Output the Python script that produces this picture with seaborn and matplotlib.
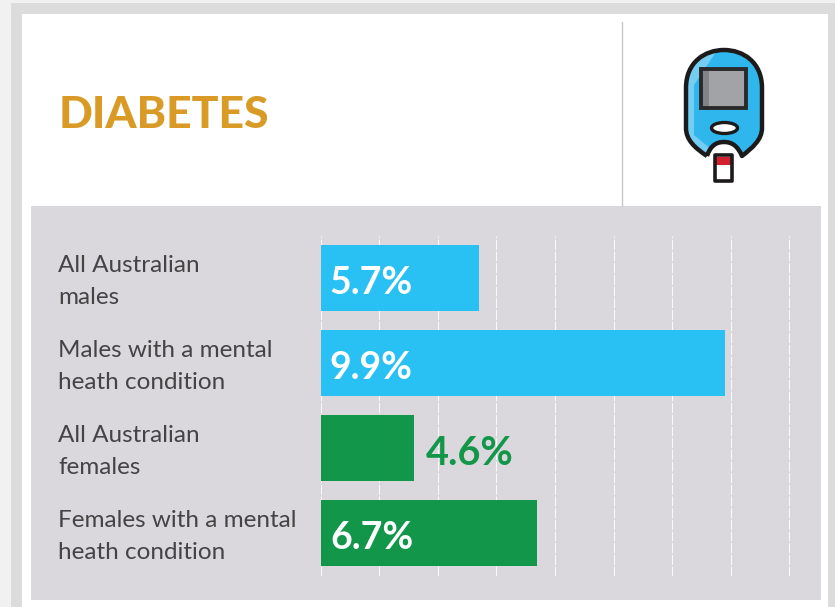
import matplotlib
matplotlib.use("Agg")
import matplotlib.pyplot as plt
from matplotlib.patches import Rectangle, Ellipse, PathPatch
from matplotlib.path import Path
from matplotlib.transforms import ScaledTranslation
import pandas as pd
import seaborn as sns

labels = ["All Australian\nmales", "Males with a mental\nheath condition",
          "All Australian\nfemales", "Females with a mental\nheath condition"]
values = [5.7, 9.9, 4.6, 6.7]
value_text = ["5.7%", "9.9%", "4.6%", "6.7%"]
bar_colors = ["#29c0f3", "#29c0f3", "#12964a", "#12964a"]
text_colors = ["white", "white", "#12964a", "white"]
grid_ticks = [3, 4, 5, 6, 7, 8, 9, 10, 11]

W, H = 835, 607
PANEL = "#dad8dc"
INK = "#1c1a1b"

sns.set_theme(style="white")
plt.rcParams["font.family"] = ["Lato", "DejaVu Sans"]

fig = plt.figure(figsize=(W / 100, H / 100), dpi=100, facecolor="#f1f1f1")

# page furniture, in pixel coordinates
bg = fig.add_axes([0, 0, 1, 1], zorder=0)
bg.set_xlim(0, W)
bg.set_ylim(H, 0)
bg.axis("off")


def box(x0, y0, x1, y1, color, **kw):
    bg.add_patch(Rectangle((x0, y0), x1 - x0, y1 - y0, facecolor=color, edgecolor="none", **kw))


box(11, 3, W, H, "#dcdcdc")
box(22, 14, 828, H, "white")
box(31, 206, 821, 600, PANEL)
bg.plot([622, 622], [22, 206], color="#c8c8c8", lw=1)
bg.text(59, 128, "DIABETES", color="#d99a26", fontsize=32, fontweight="black",
        va="baseline", ha="left")

# glucose meter icon
body = Path(
    [(707, 156), (695, 148), (686, 140), (686, 128), (686, 88), (686, 88), (686, 62), (705, 50), (724, 50),
     (743, 50), (762, 62), (762, 88), (762, 128), (762, 128), (762, 140), (752, 148), (742, 156),
     (738, 147), (733, 142), (724, 142), (715, 142), (710, 147), (707, 156)],
    [Path.MOVETO, Path.CURVE4, Path.CURVE4, Path.CURVE4, Path.LINETO, Path.LINETO, Path.CURVE4, Path.CURVE4,
     Path.CURVE4, Path.CURVE4, Path.CURVE4, Path.CURVE4, Path.LINETO, Path.LINETO, Path.CURVE4, Path.CURVE4,
     Path.CURVE4, Path.CURVE4, Path.CURVE4, Path.CURVE4, Path.CURVE4, Path.CURVE4, Path.CURVE4])
body_patch = PathPatch(body, facecolor="#2fb6ec", edgecolor="none")
bg.add_patch(body_patch)
shine = Path(
    [(686, 60), (686, 145), (707, 156), (712, 150), (694, 135), (694, 85), (716, 52)],
    [Path.MOVETO, Path.LINETO, Path.LINETO, Path.LINETO, Path.LINETO, Path.LINETO, Path.LINETO])
shine_patch = PathPatch(shine, facecolor="#74cdf2", edgecolor="none")
bg.add_patch(shine_patch)
shine_patch.set_clip_path(body_patch)
bg.add_patch(PathPatch(body, facecolor="none", edgecolor=INK, lw=3.2, joinstyle="round"))
box(701, 69, 746, 108, "#a2a3a6")
box(701, 69, 709, 108, "#838487")
bg.add_patch(Rectangle((701, 69), 45, 39, facecolor="none", edgecolor="#2b2a2b", lw=2.8))
bg.add_patch(Ellipse((724.5, 128), 26, 11, facecolor="white", edgecolor=INK, lw=2.4))
box(716, 157, 731, 165, "#d2202e")
box(716, 165, 731, 179, "white")
bg.add_patch(Rectangle((715, 155), 17, 26, facecolor="none", edgecolor=INK, lw=2.6, joinstyle="round"))

# chart
ax = fig.add_axes([320.5 / W, 1 - 575.5 / H, (821 - 320.5) / W, 340 / H], zorder=1)
ax.patch.set_alpha(0)
df = pd.DataFrame({"label": labels, "value": values})
sns.barplot(data=df, x="value", y="label", hue="label", palette=bar_colors, legend=False,
            width=0.765, saturation=1, linewidth=0, ax=ax, zorder=3)
ax.set_xlim(3, 3 + (821 - 320.5) / 58.6)
ax.set_ylim(3.5, -0.5)
ax.set_xlabel("")
ax.set_ylabel("")
ax.set_xticks(grid_ticks)
ax.grid(axis="x", color="white", lw=0.8, ls=(0, (9, 1.5)), alpha=0.85, zorder=0)
ax.set_axisbelow(True)
sns.despine(ax=ax, left=True, bottom=True, top=True, right=True)
ax.tick_params(axis="x", labelbottom=False, length=0)
ax.tick_params(axis="y", length=0, pad=262.5 * 0.72)
nudge = ScaledTranslation(0, 4 / 100, fig.dpi_scale_trans)
for t in ax.get_yticklabels():
    t.set_ha("left")
    t.set_fontsize(17.5)
    t.set_color("#454344")
    t.set_linespacing(1.66)
    t.set_transform(t.get_transform() + nudge)

for p, txt, c, v in zip(ax.patches, value_text, text_colors, values):
    y = p.get_y() + p.get_height() / 2 + 0.06
    inside = c == "white"
    x = 3.16 if inside else v + 0.2
    ax.text(x, y, txt, color=c, fontsize=27 if inside else 28.5, fontweight="bold",
            va="center", ha="left", zorder=4)

fig.savefig("out.png", dpi=100, facecolor=fig.get_facecolor())
